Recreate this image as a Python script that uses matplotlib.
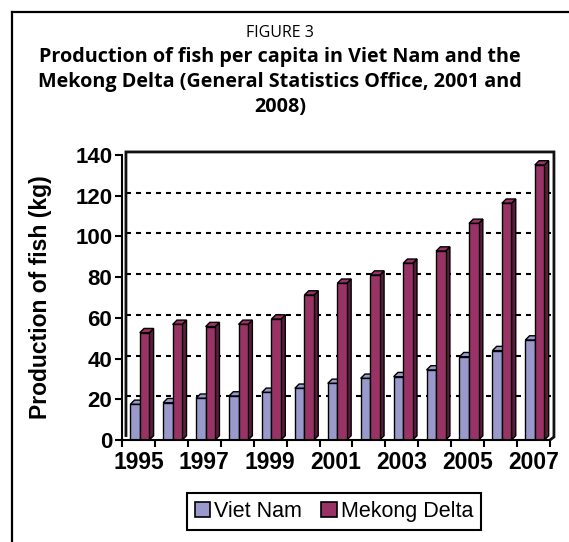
import matplotlib
matplotlib.use("Agg")
import matplotlib.pyplot as plt
import numpy as np
from matplotlib.patches import Polygon, Rectangle
from matplotlib.lines import Line2D

years = list(range(1995, 2008))
viet_nam = [17.5, 18.3, 20.5, 21.6, 23.4, 25.4, 27.8, 30.3, 31.1, 34.4, 40.9, 43.9, 49.1]
mekong_delta = [52.7, 56.8, 55.7, 56.8, 59.4, 71.2, 77.0, 81.0, 86.8, 92.8, 106.4, 116.3, 135.1]
series_names = ["Viet Nam", "Mekong Delta"]
yticks = [0, 20, 40, 60, 80, 100, 120, 140]

vn_color = "#9999CC"
vn_side = "#5c5c8a"
mk_color = "#993366"
mk_side = "#5a1e3c"

W, H = 569, 542
fig = plt.figure(figsize=(W / 100, H / 100), dpi=100)
fig.patch.set_facecolor("white")

# outer frame (left and top visible)
fig.add_artist(Line2D([12 / W, 12 / W], [1 - 12 / H, -0.1], transform=fig.transFigure,
                      color="black", lw=1.6))
fig.add_artist(Line2D([12 / W, 1.1], [1 - 12 / H, 1 - 12 / H], transform=fig.transFigure,
                      color="black", lw=1.6))

# titles
fig.text(0.492, 1 - 33 / H, "FIGURE 3", ha="center", va="center",
         fontsize=11.5, family="Open Sans")
title_lines = ["Production of fish per capita in Viet Nam and the",
               "Mekong Delta (General Statistics Office, 2001 and",
               "2008)"]
for i, t in enumerate(title_lines):
    fig.text(0.492, 1 - (57 + 25 * i) / H, t, ha="center", va="center",
             fontsize=14.2, family="Open Sans", fontweight="bold")

left, right, bottom, top = 122, 550, 440, 155
ax = fig.add_axes([left / W, 1 - bottom / H, (right - left) / W, (bottom - top) / H])
ax.set_facecolor("none")
n = len(years)
x = np.arange(n)
ax.set_xlim(-0.5, n - 0.5)
ax.set_ylim(0, 140)
ax.set_autoscale_on(False)

# back wall, shifted back in depth (data units)
wx, wy = 0.12, 1.5
x_lo, x_hi = -0.5 + wx, n - 0.5 + wx
for v in yticks[1:-1]:
    ax.plot([x_lo, x_hi], [v + wy, v + wy], color="black", lw=1.5,
            linestyle=(0, (2.4, 2.4)), zorder=2, clip_on=False)
wall = Polygon([(x_lo, wy), (x_lo, yticks[-1] + wy), (x_hi, yticks[-1] + wy), (x_hi, wy),
                (n - 0.5, 0)],
               closed=False, fill=False, edgecolor="#111111", lw=2.0, zorder=10,
               joinstyle="miter")
ax.add_artist(wall)
wall.set_clip_on(False)

# 3D bars
dx, dy = 0.13, 2.1
bw = 0.29
vn_bars = ax.bar(x - 0.105, viet_nam, width=bw, color=vn_color, edgecolor="black",
                 linewidth=1.0, zorder=3)
mk_bars = ax.bar(x + 0.185, mekong_delta, width=bw, color=mk_color, edgecolor="black",
                 linewidth=1.0, zorder=5)


def add_depth(bars, top_color, side_color, z):
    for p in bars.patches:
        x0 = p.get_x()
        x1 = x0 + p.get_width()
        h = p.get_height()
        topf = Polygon([(x0, h), (x0 + dx, h + dy), (x1 + dx, h + dy), (x1, h)],
                       closed=True, facecolor=top_color, edgecolor="black", lw=1.0,
                       zorder=z)
        side = Polygon([(x1, 0), (x1 + dx, dy), (x1 + dx, h + dy), (x1, h)],
                       closed=True, facecolor=side_color, edgecolor="black", lw=1.0,
                       zorder=z)
        ax.add_artist(side)
        ax.add_artist(topf)
        side.set_clip_on(False)
        topf.set_clip_on(False)


add_depth(vn_bars, vn_color, vn_side, 2.9)
add_depth(mk_bars, mk_color, mk_side, 4.9)

# axes
for s in ["top", "right"]:
    ax.spines[s].set_visible(False)
ax.spines["left"].set_linewidth(1.5)
ax.spines["bottom"].set_linewidth(1.5)
ax.spines["left"].set_zorder(6)
ax.spines["bottom"].set_zorder(6)

ax.set_yticks(yticks)
ax.set_yticklabels([str(v) for v in yticks], fontsize=16, fontweight="bold",
                   family="Liberation Sans")
ax.tick_params(axis="y", length=5, width=1.5, pad=2)

ax.set_xticks(np.arange(-0.5, n, 1.0), minor=False)
ax.set_xticklabels([])
ax.tick_params(axis="x", which="major", length=5, width=1.5, direction="out")
for i in range(0, n, 2):
    ax.text(x[i], -5.5, str(years[i]), ha="center", va="top", fontsize=16.5,
            fontweight="bold", family="Liberation Sans", transform=ax.transData)

fig.text(41 / W, 1 - 297 / H, "Production of fish (kg)", rotation=90, ha="center",
         va="center", fontsize=16.5, fontweight="bold", family="Liberation Sans")

handles = [Rectangle((0, 0), 1, 1, facecolor=vn_color, edgecolor="black", lw=1.2),
           Rectangle((0, 0), 1, 1, facecolor=mk_color, edgecolor="black", lw=1.2)]
leg = fig.legend(handles, series_names, loc="center", bbox_to_anchor=(334 / W, 1 - 511.5 / H),
                 ncol=2, frameon=True, fancybox=False, edgecolor="black", framealpha=1,
                 prop={"family": "Liberation Sans", "size": 15.5},
                 handlelength=0.7, handleheight=0.7, handletextpad=0.2,
                 columnspacing=0.9, borderpad=0.35)
leg.get_frame().set_linewidth(1.5)

fig.savefig("out.png", dpi=100)
